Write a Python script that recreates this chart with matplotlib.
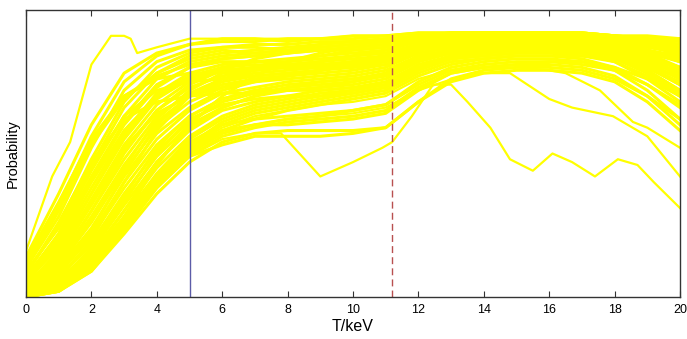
import numpy as np
import matplotlib
matplotlib.use('Agg')
import matplotlib.pyplot as plt

plt.rcParams['font.family'] = ['Liberation Sans', 'DejaVu Sans']

# Temperature grid (keV) shared by the main bundle of curves
t_grid = list(range(21))

# Main bundle, probability in percent at T = 0..20 keV
band = [
    [14, 36, 60, 78, 85, 88, 89, 89, 90, 90, 90, 91, 92, 92, 92, 92, 92, 91, 90, 88, 86],
    [12, 32, 56, 75, 84, 88, 90, 90, 89, 90, 91, 91, 92, 92, 92, 92, 92, 92, 91, 90, 89],
    [10, 28, 52, 72, 82, 86, 87, 88, 88, 89, 89, 90, 91, 92, 92, 92, 91, 91, 90, 88, 84],
    [8, 25, 48, 68, 80, 85, 87, 87, 86, 87, 88, 89, 91, 91, 92, 92, 92, 91, 89, 86, 82],
    [9, 24, 46, 66, 78, 84, 86, 85, 86, 88, 89, 89, 90, 91, 91, 92, 92, 92, 91, 90, 90],
    [7, 22, 44, 63, 76, 82, 84, 85, 86, 86, 87, 88, 90, 91, 91, 91, 91, 90, 88, 84, 79],
    [6, 20, 41, 60, 73, 80, 83, 84, 85, 86, 86, 87, 90, 90, 91, 91, 91, 91, 90, 88, 85],
    [5, 18, 38, 57, 71, 78, 81, 82, 83, 84, 85, 86, 89, 90, 90, 91, 91, 90, 89, 86, 82],
    [6, 17, 36, 55, 69, 76, 80, 82, 82, 83, 84, 85, 88, 90, 90, 90, 90, 90, 88, 85, 80],
    [4, 15, 34, 53, 67, 75, 79, 80, 81, 82, 84, 85, 88, 89, 90, 90, 90, 89, 87, 83, 77],
    [5, 14, 32, 51, 65, 73, 77, 79, 80, 81, 82, 84, 87, 89, 89, 90, 90, 89, 88, 86, 84],
    [3, 13, 30, 48, 63, 71, 76, 78, 79, 80, 82, 83, 87, 88, 89, 89, 89, 88, 86, 82, 76],
    [4, 12, 28, 46, 61, 70, 75, 77, 78, 79, 80, 82, 86, 88, 88, 89, 89, 89, 87, 84, 80],
    [3, 11, 26, 44, 59, 68, 73, 76, 77, 78, 79, 81, 85, 87, 88, 88, 88, 87, 85, 80, 74],
    [2, 10, 24, 42, 57, 66, 72, 75, 76, 77, 78, 80, 85, 87, 87, 88, 88, 88, 87, 85, 82],
    [3, 9, 22, 40, 55, 65, 71, 73, 75, 76, 77, 79, 84, 86, 87, 88, 88, 87, 84, 78, 70],
    [2, 8, 21, 38, 53, 63, 69, 72, 74, 75, 76, 78, 83, 86, 87, 87, 87, 87, 85, 81, 76],
    [1, 7, 19, 36, 51, 61, 68, 71, 73, 74, 75, 77, 83, 85, 86, 87, 87, 86, 84, 79, 72],
    [2, 7, 18, 34, 49, 60, 66, 70, 72, 73, 74, 76, 82, 85, 86, 86, 87, 87, 86, 83, 78],
    [1, 6, 16, 32, 47, 58, 65, 68, 70, 72, 73, 75, 81, 84, 85, 86, 86, 85, 82, 76, 68],
    [1, 5, 15, 30, 45, 56, 63, 67, 69, 71, 72, 74, 80, 84, 85, 86, 86, 86, 84, 80, 74],
    [0, 5, 14, 28, 43, 55, 62, 66, 68, 70, 72, 74, 80, 83, 84, 85, 85, 84, 82, 77, 70],
    [1, 4, 13, 27, 42, 53, 61, 65, 67, 69, 71, 73, 79, 83, 84, 85, 85, 85, 83, 79, 72],
    [0, 4, 12, 26, 41, 52, 60, 64, 66, 68, 70, 72, 78, 82, 83, 84, 84, 83, 80, 74, 66],
    [0, 3, 11, 25, 40, 51, 58, 62, 65, 67, 69, 71, 77, 81, 83, 84, 84, 84, 83, 80, 77],
    [0, 3, 11, 26, 42, 54, 60, 62, 63, 64, 65, 67, 75, 80, 82, 83, 83, 82, 79, 72, 62],
    [1, 3, 10, 24, 39, 50, 57, 60, 62, 63, 65, 67, 74, 79, 81, 82, 82, 82, 80, 76, 70],
    [0, 2, 10, 25, 40, 52, 58, 60, 60, 61, 62, 64, 72, 78, 80, 81, 81, 80, 77, 70, 60],
    [0, 2, 9, 23, 38, 49, 56, 59, 61, 62, 63, 65, 73, 78, 80, 81, 82, 81, 79, 74, 67],
    [0, 3, 12, 28, 46, 60, 70, 77, 82, 85, 87, 88, 90, 91, 91, 91, 91, 91, 90, 89, 88],
    [8, 26, 47, 62, 68, 70, 71, 71, 72, 72, 73, 74, 80, 84, 86, 87, 87, 86, 84, 80, 75],
    [6, 22, 45, 63, 72, 75, 76, 77, 78, 79, 81, 83, 88, 90, 91, 91, 91, 91, 90, 89, 87],
    [2, 12, 30, 50, 65, 74, 79, 83, 85, 87, 88, 89, 91, 92, 92, 92, 92, 91, 89, 86, 83],
    [10, 30, 54, 70, 76, 78, 78, 79, 80, 82, 84, 86, 89, 91, 91, 92, 92, 92, 91, 89, 87],
    [4, 16, 36, 56, 70, 77, 80, 81, 80, 80, 81, 83, 87, 89, 90, 90, 91, 90, 89, 87, 85],
    [0, 2, 9, 22, 36, 47, 54, 57, 58, 58, 58, 59, 68, 76, 79, 80, 80, 79, 76, 70, 62],
    [0, 2, 10, 24, 40, 49, 53, 56, 56, 56, 57, 59, 68, 75, 78, 79, 79, 78, 75, 68, 58],
    [13, 33, 55, 70, 77, 81, 83, 84, 85, 86, 87, 88, 90, 91, 92, 92, 92, 92, 91, 91, 90],
    [3, 14, 33, 52, 64, 70, 73, 75, 77, 79, 81, 83, 87, 89, 90, 91, 91, 91, 90, 88, 86],
    [1, 6, 20, 40, 58, 70, 76, 79, 81, 82, 83, 84, 87, 89, 89, 90, 90, 89, 87, 83, 78],
    [5, 19, 40, 58, 70, 76, 79, 80, 82, 84, 86, 87, 89, 90, 91, 91, 91, 91, 90, 88, 86],
    [2, 9, 23, 43, 60, 70, 74, 76, 77, 79, 81, 82, 86, 88, 89, 89, 89, 88, 86, 81, 74],
    [7, 21, 42, 61, 74, 80, 82, 82, 81, 81, 82, 84, 88, 90, 90, 91, 91, 91, 90, 88, 86],
    [1, 5, 17, 35, 52, 63, 69, 72, 72, 73, 75, 78, 84, 86, 87, 88, 88, 87, 85, 82, 78],
    [0, 4, 14, 30, 47, 59, 66, 70, 73, 75, 76, 77, 82, 85, 86, 86, 86, 85, 83, 78, 71],
    [3, 10, 27, 45, 62, 72, 78, 80, 80, 80, 80, 81, 85, 87, 88, 89, 89, 89, 88, 86, 83],
    [11, 31, 53, 69, 78, 83, 85, 86, 87, 88, 89, 90, 91, 92, 92, 92, 92, 92, 91, 90, 88],
    [1, 5, 16, 33, 50, 62, 67, 69, 70, 70, 71, 73, 79, 83, 85, 86, 86, 86, 85, 83, 80],
]

# Curves that leave the bundle (own T sampling)
early_t = [0, 0.8, 1.35, 2, 2.6, 3.0, 3.2, 3.4, 4, 5, 6, 7, 8, 9, 10, 11, 12, 13, 14, 15, 16, 17, 18, 19, 20]
early_p = [16, 42, 54, 81, 91, 91, 90, 85, 87, 90, 90, 90, 90, 90, 91, 91, 92, 92, 92, 92, 92, 91, 91, 90, 89]

dip_t = [0, 1, 2, 3, 4, 5, 6, 7, 7.8, 8.6, 9, 10, 10.9, 11.2, 11.8, 12.45, 13, 13.5, 14.2,
         14.8, 15.5, 16.1, 16.7, 17.4, 18.1, 18.7, 19.2, 20]
dip_p = [0, 2, 10, 24, 38, 49, 55, 57, 57, 47, 42, 47, 52, 54, 63, 74, 74, 68, 59,
         48, 44, 50, 47, 42, 48, 46, 40, 31]

drop1_t = [0, 1, 2, 3, 4, 5, 6, 7, 8, 9, 10, 11, 12, 13.05, 13.8, 14.8, 16, 16.7, 17.95, 19, 20]
drop1_p = [1, 4, 12, 25, 40, 51, 57, 60, 62, 63, 64, 66, 72, 76, 78, 78, 69, 66, 63, 56, 42]

drop2_t = [0, 1, 2, 3, 4, 5, 6, 7, 8, 9, 10, 11, 12, 13, 14, 15, 16, 16.5, 17.55, 18.56, 19, 20]
drop2_p = [0, 3, 11, 26, 41, 52, 59, 63, 65, 67, 68, 70, 76, 79, 80, 80, 79, 78, 72, 61, 59, 52]

t_blue = 5.0
t_red = 11.2

yellow = '#ffff00'

fig = plt.figure(figsize=(6.87, 3.39), dpi=100)
ax = fig.add_axes([26 / 687, 42 / 339, 654 / 687, 287 / 339])

for row in band:
    ax.plot(t_grid, np.array(row) / 100, color=yellow, lw=2.2)
for tt, pp in [(early_t, early_p), (dip_t, dip_p), (drop1_t, drop1_p), (drop2_t, drop2_p)]:
    ax.plot(tt, np.array(pp) / 100, color=yellow, lw=1.6)

ax.axvline(t_blue, color='#5c5ca8', lw=1.0)
ax.axvline(t_red, color='#b85050', lw=1.0, dashes=(5, 3))

ax.set_xlim(0, 20)
ax.set_ylim(0, 1)
ax.set_xticks(range(0, 21, 2))
ax.set_yticks([])
ax.tick_params(axis='x', direction='in', top=True, length=4, width=0.8,
               labelsize=9, pad=5, color='#333333')
for s in ax.spines.values():
    s.set_color('#333333')
    s.set_linewidth(1.0)

ax.set_xlabel('T/keV', fontsize=11.5)
ax.xaxis.set_label_coords(0.5, -0.075)
ax.set_ylabel('Probability', fontsize=10.5)
ax.yaxis.set_label_coords(-0.01, 0.5)

fig.savefig('out.png', dpi=100)
